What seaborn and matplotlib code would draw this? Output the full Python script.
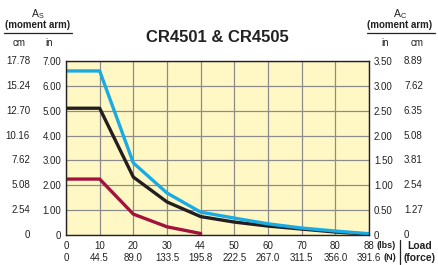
import numpy as np
import pandas as pd
import matplotlib
matplotlib.use("Agg")
import matplotlib.pyplot as plt
from matplotlib.lines import Line2D
import matplotlib.transforms as mtrans
import seaborn as sns

# ---- data ----
lbs_labels = ["0", "10", "20", "30", "44", "50", "60", "70", "80", "88"]
n_labels = ["0", "44.5", "89.0", "133.5", "195.8", "222.5", "267.0", "311.5", "356.0", "391.6"]
left_in_labels = ["0", "1.00", "2.00", "3.00", "4.00", "5.00", "6.00", "7.00"]
left_cm_labels = ["0", "2.54", "5.08", "7.62", "10.16", "12.70", "15.24", "17.78"]
right_in_labels = ["0", "0.50", "1.00", "1.50", "2.00", "2.50", "3.00", "3.50"]
right_cm_labels = ["0", "1.27", "2.54", "3.81", "5.08", "6.35", "7.62", "8.89"]

blue_vals = [6.6, 6.6, 2.9, 1.69, 0.92, 0.68, 0.45, 0.28, 0.16, 0.05]
black_vals = [5.1, 5.1, 2.33, 1.33, 0.74, 0.52, 0.36, 0.24, 0.12, 0.03]
red_vals = [2.25, 2.25, 0.84, 0.33, 0.06]

sns.set_theme(style="white")
plt.rcParams['font.family'] = ['Liberation Sans', 'DejaVu Sans']

W, H = 439, 265
fig = plt.figure(figsize=(W / 100, H / 100), dpi=100)
fig.patch.set_facecolor("white")

def fx(px):
    return px / W

def fy(py):
    return 1 - py / H

ax = fig.add_axes([fx(66), fy(235), fx(369) - fx(66), fy(61) - fy(235)])
ax.set_facecolor("#fff8c4")

rows = []
for name, vals in [("red", red_vals), ("black", black_vals), ("blue", blue_vals)]:
    for i, v in enumerate(vals):
        rows.append({"pos": i, "val": v, "series": name})
df = pd.DataFrame(rows)

palette = {"red": "#a3123d", "black": "#231f20", "blue": "#19abe3"}
sns.lineplot(data=df, x="pos", y="val", hue="series", hue_order=["red", "black", "blue"],
             palette=palette, linewidth=2.4, legend=False, ax=ax, sort=False)

ax.set_xlim(0, len(lbs_labels) - 1)
ax.set_ylim(0, 7)
ax.set_xticks(range(len(lbs_labels)))
ax.set_xticklabels(lbs_labels, fontsize=7, color="#222222")
ax.set_yticks(range(8))
ax.set_yticklabels(left_in_labels, fontsize=7, color="#222222")
ax.tick_params(axis="both", length=0)
ax.tick_params(axis="x", pad=4)
ax.tick_params(axis="y", pad=3.5)
ax.set_xlabel("")
ax.set_ylabel("")
ax.grid(True, color="#8c8c8c", linewidth=0.9)
ax.set_axisbelow(True)
for s in ax.spines.values():
    s.set_color("#222222")
    s.set_linewidth(1.0)
    s.set_visible(True)

# second row of x labels (N)
transx = mtrans.blended_transform_factory(ax.transData, fig.transFigure)
for i, lab in enumerate(n_labels):
    fig.text(i, fy(258), lab, transform=transx, ha="center", va="center",
             fontsize=7, color="#222222")

# cm column on left
trans = mtrans.blended_transform_factory(fig.transFigure, ax.transData)
for i, lab in enumerate(left_cm_labels):
    fig.text(fx(30), i, lab, transform=trans, ha="right", va="center",
             fontsize=7, color="#222222")

# right axis (in)
ax2 = ax.twinx()
ax2.set_ylim(0, 3.5)
ax2.set_yticks(np.arange(0, 3.51, 0.5))
ax2.set_yticklabels(right_in_labels, fontsize=7, color="#222222")
ax2.tick_params(axis="y", length=0, pad=3.5)
ax2.grid(False)
for s in ax2.spines.values():
    s.set_visible(False)
ax2.set_ylabel("")

trans2 = mtrans.blended_transform_factory(fig.transFigure, ax2.transData)
for i, lab in enumerate(right_cm_labels):
    fig.text(fx(404), i * 0.5, lab, transform=trans2, ha="left", va="center",
             fontsize=7, color="#222222")

# title
fig.text(fx(217), fy(37), "CR4501 & CR4505", ha="center", va="center",
         fontsize=12, fontweight="bold", color="#222222")

# headers
hc = "#222222"
fig.text(fx(38), fy(14), r"$\mathregular{A_S}$", ha="center", va="center", fontsize=7.5, color=hc)
fig.text(fx(38), fy(25), "(moment arm)", ha="center", va="center", fontsize=7,
         fontweight="bold", color=hc)
fig.add_artist(Line2D([fx(4), fx(72)], [fy(33), fy(33)], color="#222222", lw=0.9))
fig.text(fx(19), fy(43), "cm", ha="center", va="center", fontsize=7, color=hc)
fig.text(fx(49), fy(43), "in", ha="center", va="center", fontsize=7, color=hc)

fig.text(fx(400), fy(14), r"$\mathregular{A_C}$", ha="center", va="center", fontsize=7.5, color=hc)
fig.text(fx(400), fy(25), "(moment arm)", ha="center", va="center", fontsize=7,
         fontweight="bold", color=hc)
fig.add_artist(Line2D([fx(367), fx(435)], [fy(33), fy(33)], color="#222222", lw=0.9))
fig.text(fx(385), fy(43), "in", ha="center", va="center", fontsize=7, color=hc)
fig.text(fx(417), fy(43), "cm", ha="center", va="center", fontsize=7, color=hc)

# x unit labels
fig.text(fx(396), fy(245), "(lbs)", ha="right", va="center", fontsize=6.5, fontweight="bold", color=hc)
fig.text(fx(396), fy(258), "(N)", ha="right", va="center", fontsize=6.5, fontweight="bold", color=hc)
fig.add_artist(Line2D([fx(400), fx(400)], [fy(240), fy(264)], color="#222222", lw=0.9))
fig.text(fx(420), fy(246), "Load", ha="center", va="center", fontsize=7.5, fontweight="bold", color=hc)
fig.text(fx(420), fy(258), "(force)", ha="center", va="center", fontsize=7.5, fontweight="bold", color=hc)

fig.savefig("out.png", dpi=100, facecolor="white")
